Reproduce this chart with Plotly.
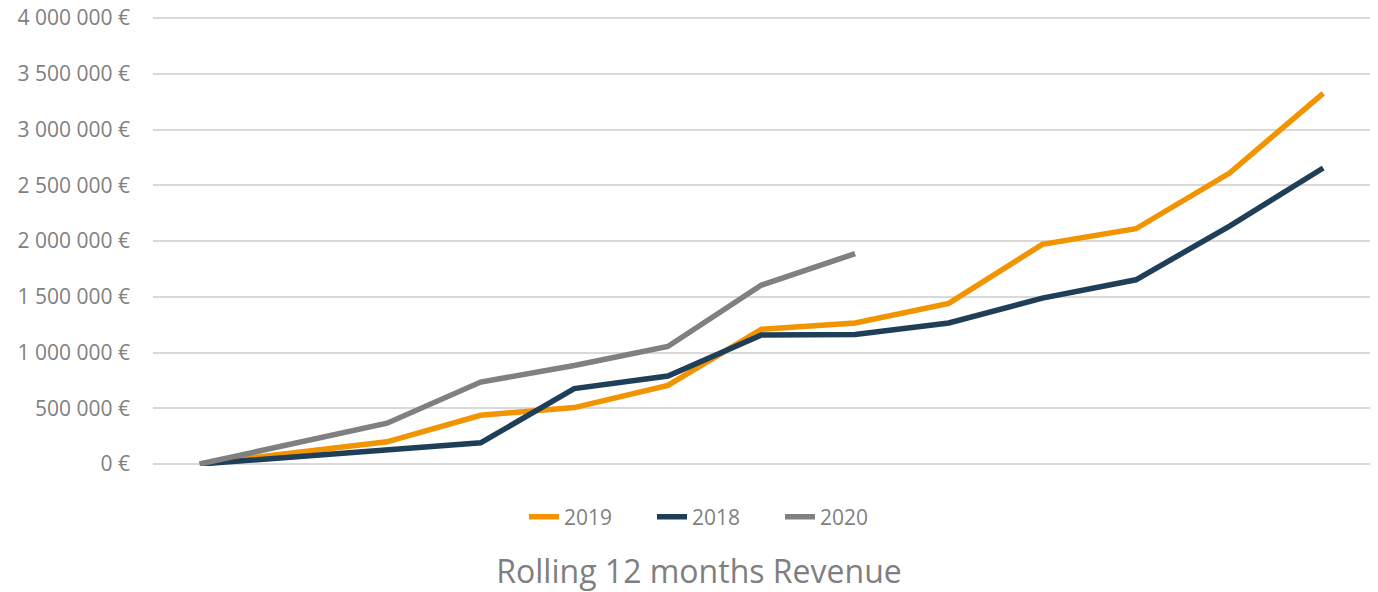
import plotly.graph_objects as go

months = list(range(13))
rev_2019 = [0, 95000, 199000, 437000, 506000, 705000, 1208000, 1265000, 1440000, 1970000, 2110000, 2610000, 3324000]
rev_2018 = [0, 62000, 131000, 190000, 676000, 789000, 1158000, 1161000, 1265000, 1488000, 1652000, 2134000, 2655000]
rev_2020 = [0, 179000, 366000, 735000, 884000, 1054000, 1605000, 1887000]

series = [
    ("2019", rev_2019, "#F29400"),
    ("2018", rev_2018, "#1F3E58"),
    ("2020", rev_2020, "#808080"),
]

fig = go.Figure()
for name, vals, color in series:
    fig.add_trace(go.Scatter(
        x=months[:len(vals)], y=vals, name=name, mode="lines",
        line=dict(color=color, width=5.5),
    ))

W, H = 1378, 592
font_family = "Open Sans"
pad = 18000
fig.update_layout(
    width=W, height=H,
    paper_bgcolor="white", plot_bgcolor="white",
    margin=dict(l=153, r=8, t=16, b=H - 466, autoexpand=False),
    separators=", ",
    font=dict(family=font_family, color="#7F7F7F"),
    showlegend=True,
    legend=dict(
        orientation="h", xref="container", yref="container",
        x=716 / W, xanchor="center", y=1 - 517 / H, yanchor="middle",
        font=dict(size=21, color="#7F7F7F", family=font_family),
        traceorder="normal", entrywidth=83,
    ),
    title=dict(
        text="Rolling 12 months Revenue",
        xref="container", yref="container",
        x=699 / W, xanchor="center", y=1 - 572 / H, yanchor="middle",
        font=dict(size=32, color="#7F7F7F", family=font_family),
        automargin=False,
    ),
)
fig.update_xaxes(
    range=[-0.5, 12.5], showticklabels=False, showgrid=False,
    zeroline=False, showline=False, ticks="", automargin=False,
)
fig.update_yaxes(
    range=[-pad, 4000000 + pad], dtick=500000, tick0=0,
    tickformat=",.0f", ticksuffix=" €",
    showgrid=True, gridcolor="#D9D9D9", gridwidth=1.5,
    zeroline=False, showline=False, ticks="",
    ticklabelstandoff=22, automargin=False, ticklabeloverflow="allow",
    tickfont=dict(size=21, color="#7F7F7F", family=font_family),
)

fig.write_html(
    "out.html",
    config={"displayModeBar": False},
    post_script="document.body.style.margin='0';",
)
